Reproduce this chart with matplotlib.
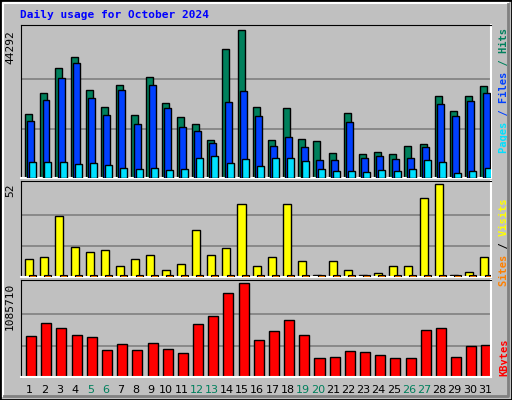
import matplotlib
matplotlib.use("Agg")
import matplotlib.pyplot as plt
from matplotlib.patches import Rectangle
from matplotlib.lines import Line2D
import numpy as np

days = list(range(1, 32))
weekend = [5, 6, 12, 13, 19, 20, 26, 27]
hits = [19040, 25350, 32870, 36170, 26250, 21140, 27760, 18740, 30160, 22350, 18140, 16030, 11520, 38580, 44292,
        21140, 11520, 20840, 11820, 11220, 7620, 19340, 7310, 7920, 7310, 9720, 10320, 24450, 19940, 24450, 27450]
files = [16930, 23250, 29860, 34370, 23850, 18740, 26250, 16030, 27760, 20840, 15430, 14230, 10620, 22650, 25950,
         18440, 9720, 12420, 9420, 5510, 5510, 16630, 6110, 6710, 5810, 6110, 9420, 22040, 18440, 22950, 25350]
pages = [4910, 4910, 4910, 4310, 4610, 4010, 3110, 2810, 3110, 2510, 2810, 6110, 6710, 4610, 5810,
         3710, 6110, 6110, 5210, 2810, 2200, 2200, 1900, 2510, 2200, 2810, 5510, 4910, 1600, 2200, 3110]
visits = [10, 11, 34, 17, 14, 15, 6, 10, 12, 4, 7, 26, 12, 16, 41, 6, 11, 41, 9, 1, 9, 4, 1, 2, 6, 6, 44, 52, 1, 3, 11]
sites = [1] * 31
kbytes = [467570, 622100, 562660, 479450, 455680, 313030, 384360, 313030, 396240, 324920, 277370, 610210, 705310,
          966830, 1085710, 431900, 527000, 657760, 479450, 217930, 229820, 301140, 289260, 253600, 217930, 217930,
          538890, 562660, 229820, 360580, 372470]

W, H = 512, 400
fig = plt.figure(figsize=(W / 100, H / 100), dpi=100)
fig.patch.set_facecolor("#C0C0C0")
# bevel borders
fig.add_artist(Line2D([3 / W, 3 / W, 1 - 4 / W], [4 / H, 1 - 3 / H, 1 - 3 / H], transform=fig.transFigure, color="white", lw=1.5))
fig.add_artist(Line2D([4 / W, 1 - 4 / W, 1 - 4 / W], [4 / H, 4 / H, 1 - 4 / H], transform=fig.transFigure, color="#808080", lw=2))
fig.add_artist(Rectangle((0, 0), 1, 1, transform=fig.transFigure, fill=False, edgecolor="black", lw=2))

mono = "DejaVu Sans Mono"
fig.text(20 / W, 1 - 15 / H, "Daily usage for October 2024", color="#0000FF", family=mono,
         fontweight="bold", fontsize=8, va="center", ha="left")

x0, x1 = 20.5, 491
x = np.array(days)

def mkax(top, bottom):
    ax = fig.add_axes([x0 / W, 1 - bottom / H, (x1 - x0) / W, (bottom - top) / H])
    ax.set_facecolor("#C0C0C0")
    ax.set_xlim(0.5, 31.5)
    ax.set_xticks([])
    ax.set_yticks([])
    for s in ["top", "left"]:
        ax.spines[s].set_color("black")
    for s in ["bottom", "right"]:
        ax.spines[s].set_color("white")
        ax.spines[s].set_linewidth(1.5)
    return ax

def grid(ax, mx):
    for f in (1 / 3, 2 / 3):
        ax.axhline(mx * f, color="#808080", lw=1.2, zorder=0)

def rlabel(ax, parts, y_top_axes):
    # parts listed bottom-to-top (rotated text reads upward)
    full = "".join(p for p, c in parts)
    pos = 0
    for p, c in parts:
        s = " " * pos + p + " " * (len(full) - pos - len(p))
        ax.text(1.028, y_top_axes, s, transform=ax.transAxes, rotation=90, ha="center", va="top",
                family=mono, fontsize=7.5, color=c, fontweight="bold")
        pos += len(p)

# top panel
ax1 = mkax(25, 178)
mx1 = max(hits)
ax1.set_ylim(0, mx1 * 1.035)
grid(ax1, mx1)
ax1.bar(x + 0.03, hits, width=0.46, color="#00805C", edgecolor="black", lw=1, zorder=2)
ax1.bar(x + 0.18, files, width=0.46, color="#0040FF", edgecolor="black", lw=1, zorder=3)
ax1.bar(x + 0.31, pages, width=0.46, color="#00E0FF", edgecolor="black", lw=1, zorder=4)
ax1.text(-0.022, 1 / 1.035, str(mx1), transform=ax1.transAxes, rotation=90, ha="center", va="top",
         family=mono, fontsize=8)
rlabel(ax1, [("Pages", "#00E0FF"), (" / ", "#0040FF"), ("Files", "#0040FF"), (" / ", "#00805C"), ("Hits", "#00805C")], 0.98)

# middle panel
ax2 = mkax(181, 277)
mx2 = max(visits)
ax2.set_ylim(0, mx2 * 1.03)
grid(ax2, mx2)
ax2.bar(x + 0.06, visits, width=0.53, color="#FFFF00", edgecolor="black", lw=1, zorder=2)
ax2.bar(x + 0.31, sites, width=0.46, color="#FF8000", edgecolor="black", lw=0.8, zorder=3)
ax2.text(-0.022, 1 / 1.03, str(mx2), transform=ax2.transAxes, rotation=90, ha="center", va="top",
         family=mono, fontsize=8)
rlabel(ax2, [("Sites", "#FF8000"), (" / ", "#000000"), ("Visits", "#FFFF00")], 0.82)

# bottom panel
ax3 = mkax(280, 377)
mx3 = max(kbytes)
ax3.set_ylim(0, mx3 * 1.03)
grid(ax3, mx3)
ax3.bar(x + 0.2, kbytes, width=0.66, color="#FF0000", edgecolor="black", lw=1, zorder=2)
ax3.text(-0.022, 1 / 1.03, str(mx3), transform=ax3.transAxes, rotation=90, ha="center", va="top",
         family=mono, fontsize=8)
rlabel(ax3, [("KBytes", "#FF0000")], 0.4)

for d in days:
    ax3.text(d + 0.1, -0.08, str(d), transform=ax3.get_xaxis_transform(), ha="center", va="top",
             fontsize=8, color="#00805C" if d in weekend else "black")

fig.savefig("out.png", dpi=100, facecolor=fig.get_facecolor())
